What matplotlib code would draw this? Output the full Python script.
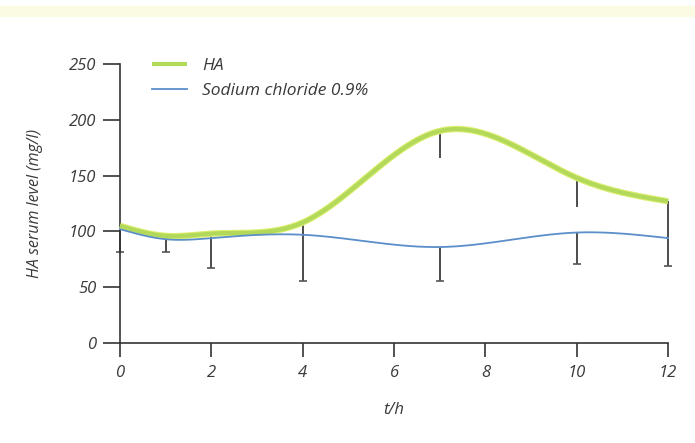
import numpy as np
import matplotlib
matplotlib.use("Agg")
import matplotlib.pyplot as plt
from matplotlib.patches import Rectangle

# Time points (h) and mean serum levels (mg/l)
hours = [0, 1, 2, 4, 7, 10, 12]
ha_level = [105, 96, 98, 108, 190, 148, 127]
nacl_level = [102, 93, 94, 97, 86, 99, 94]

# One-sided error extents (mg/l)
ha_err_low = [0, 0, 0, 0, 24, 26, 33]
nacl_err_low = [20, 11, 27, 41, 30, 28, 25]
nacl_err_up = [0, 5, 5, 13, 0, 0, 0]

x_ticks = [0, 2, 4, 6, 8, 10, 12]
y_ticks = [0, 50, 100, 150, 200, 250]


def natural_spline(xs, ys, n=400):
    """Smooth curve through the points (natural cubic spline)."""
    xs = np.asarray(xs, float)
    ys = np.asarray(ys, float)
    k = len(xs)
    h = np.diff(xs)
    A = np.zeros((k, k))
    b = np.zeros(k)
    A[0, 0] = A[-1, -1] = 1.0
    for i in range(1, k - 1):
        A[i, i - 1] = h[i - 1]
        A[i, i] = 2 * (h[i - 1] + h[i])
        A[i, i + 1] = h[i]
        b[i] = 6 * ((ys[i + 1] - ys[i]) / h[i] - (ys[i] - ys[i - 1]) / h[i - 1])
    M = np.linalg.solve(A, b)
    xf = np.linspace(xs[0], xs[-1], n)
    idx = np.clip(np.searchsorted(xs, xf) - 1, 0, k - 2)
    x0, x1 = xs[idx], xs[idx + 1]
    hh = x1 - x0
    t0, t1 = x1 - xf, xf - x0
    yf = (M[idx] * t0 ** 3 + M[idx + 1] * t1 ** 3) / (6 * hh) \
        + (ys[idx] / hh - M[idx] * hh / 6) * t0 \
        + (ys[idx + 1] / hh - M[idx + 1] * hh / 6) * t1
    return xf, yf


plt.rcParams['font.family'] = ['Open Sans', 'DejaVu Sans']
text_col = '#3a3a3a'
fig = plt.figure(figsize=(6.95, 4.43), dpi=100)
fig.patches.append(Rectangle((0, 0.965), 1, 0.022, transform=fig.transFigure,
                             color='#fbfbe4', zorder=0))
ax = fig.add_axes([0.1727, 0.2257, 0.7885, 0.6298])

err_col = '#2e2e2e'
h = np.array(hours, float)
ha = np.array(ha_level, float)
na = np.array(nacl_level, float)

# error bars (caps drawn only at the lower ends of the saline series)
ax.vlines(h, na - np.array(nacl_err_low), na + np.array(nacl_err_up),
          color=err_col, lw=1.2, zorder=2, clip_on=False)
ax.vlines(h, ha - np.array(ha_err_low), ha, color=err_col, lw=1.2, zorder=2,
          clip_on=False)
ax.plot(h, na - np.array(nacl_err_low), linestyle='none', marker='_',
        markersize=6, mew=1.2, color='#555555', zorder=2, clip_on=False)

xs, ys = natural_spline(hours, ha_level)
ax.plot(xs, ys, color='#dcee70', lw=4.6, solid_capstyle='butt', zorder=3,
        clip_on=False)
ax.plot(xs, ys, color='#b2d95a', lw=3.0, solid_capstyle='butt', zorder=3,
        clip_on=False, label='HA')
xs2, ys2 = natural_spline(hours, nacl_level)
ax.plot(xs2, ys2, color='#5a8fca', lw=1.3, zorder=4, clip_on=False,
        label='Sodium chloride 0.9%')

ax.set_xlim(0, 12)
ax.set_ylim(0, 250)
ax.set_xticks(x_ticks)
ax.set_yticks(y_ticks)
ax.set_xticklabels([str(v) for v in x_ticks], fontstyle='italic')
ax.set_yticklabels([str(v) for v in y_ticks], fontstyle='italic')
for s in ('top', 'right'):
    ax.spines[s].set_visible(False)
for s in ('left', 'bottom'):
    ax.spines[s].set_color('#333333')
    ax.spines[s].set_linewidth(1.2)
ax.tick_params(axis='y', direction='out', length=12, width=1.2,
               color='#333333', labelsize=12, labelcolor=text_col, pad=5)
ax.tick_params(axis='x', direction='out', length=10, width=1.2,
               color='#333333', labelsize=12, labelcolor=text_col, pad=6)
ax.set_xlabel('t/h', fontstyle='italic', fontsize=12, color=text_col,
              labelpad=15)
ax.set_ylabel('HA serum level (mg/l)', fontstyle='italic', fontsize=11.5,
              color=text_col, labelpad=19)

handles, labels = ax.get_legend_handles_labels()
leg = ax.legend(handles, labels, loc='upper left', bbox_to_anchor=(0.03, 1.078),
                frameon=False, fontsize=12.5, handlelength=2.0, handletextpad=0.9,
                labelspacing=0.5)
for t in leg.get_texts():
    t.set_fontstyle('italic')
    t.set_color(text_col)

fig.savefig('out.png', dpi=100)
